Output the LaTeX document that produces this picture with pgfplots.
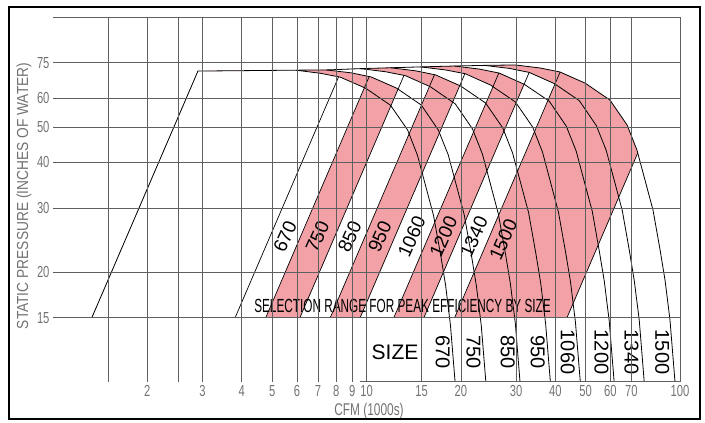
\documentclass[border=0pt]{standalone}
\usepackage{pgfplots}
\pgfplotsset{compat=1.18}
\usepackage{fontspec}
\setmainfont{Liberation Sans}
\newfontfamily\condfont[FakeStretch=0.7]{Liberation Sans}
\newfontfamily\ylabfont[FakeStretch=0.86]{Liberation Sans}
\newfontfamily\selfont[FakeStretch=0.62]{Liberation Sans}
\definecolor{pinkfill}{RGB}{242,162,166}
\definecolor{gridgray}{RGB}{95,95,95}
\definecolor{labgray}{RGB}{115,115,115}
\tikzset{striplab/.style={rotate=66, inner sep=0pt, font=\fontsize{19bp}{19bp}\selectfont},
         sizelab/.style={rotate=-90, inner sep=0pt, font=\fontsize{20bp}{20bp}\selectfont}}
\begin{document}
\begin{tikzpicture}
\useasboundingbox (-53bp,-41bp) rectangle (652bp,382bp);
\begin{axis}[
  at={(0,0)}, anchor=south west,
  scale only axis, width=627bp, height=365bp,
  xmode=log, ymode=log, xmin=1, xmax=100, ymin=10, ymax=100,
  axis line style={draw=none},
  tick style={draw=none},
  xtick={1.5,2,2.5,3,4,5,6,7,8,9,10,15,20,30,40,50,60,70,100},
  xticklabels={,2,,3,4,5,6,7,8,9,10,15,20,30,40,50,60,70,100},
  ytick={15,20,30,40,50,60,75,100},
  yticklabels={15,20,30,40,50,60,75,},
  grid=major,
  major grid style={gridgray, line width=0.5bp},
  axis on top,
  ticklabel style={font=\condfont\fontsize{16bp}{16bp}\selectfont, text=labgray},
  /pgf/number format/assume math mode=true,
  xlabel={CFM (1000s)},
  xlabel style={at={(rel axis cs:0.504,-0.0795)}, anchor=center, font=\condfont\fontsize{17bp}{17bp}\selectfont, text=labgray},
  ylabel={STATIC PRESSURE (INCHES OF WATER)},
  ylabel style={at={(rel axis cs:-0.0463,0.5096)}, anchor=center, font=\ylabfont\fontsize{16bp}{16bp}\selectfont, text=labgray},
]
% ---- selection ranges (painted largest size first) ----
\addplot[fill=pinkfill, draw=none] coordinates {(43.6,15) (1.33,15) (2.90,71.1) (5.95,71.5) (7.45,71.6) (9.57,72.2) (11.95,72.6) (14.88,73.0) (19.07,73.4) (23.78,73.7) (29.8,73.9) (35.8,72.5) (41.4,70.7) (49.8,65.9) (59.8,59.2) (67.8,50.6) (72.9,43.2) (73.35,42.45)} -- cycle;
\addplot[fill=white, draw=none] coordinates {(19.1,15) (1.33,15) (2.90,71.1) (5.95,71.5) (7.45,71.6) (9.57,72.2) (11.95,72.6) (14.88,73.0) (19.07,73.4) (23.78,73.7) (28.57,72.3) (33.04,70.5) (39.74,65.7) (39.93,65.53)} -- cycle;
\addplot[fill=pinkfill, draw=none] coordinates {(15.24,15) (1.33,15) (2.90,71.1) (5.95,71.5) (7.45,71.6) (9.57,72.2) (11.95,72.6) (14.88,73.0) (19.07,73.4) (22.91,72.0) (26.50,70.2) (31.83,65.44)} -- cycle;
\addplot[fill=white, draw=none] coordinates {(12.22,15) (1.33,15) (2.90,71.1) (5.95,71.5) (7.45,71.6) (9.57,72.2) (11.95,72.6) (14.88,73.0) (17.88,71.6) (20.67,69.9) (24.87,65.1) (25.33,64.47)} -- cycle;
\addplot[fill=pinkfill, draw=none] coordinates {(9.54,15) (1.33,15) (2.90,71.1) (5.95,71.5) (7.45,71.6) (9.57,72.2) (11.95,72.6) (14.36,71.2) (16.61,69.4) (19.84,64.9)} -- cycle;
\addplot[fill=white, draw=none] coordinates {(7.66,15) (1.33,15) (2.90,71.1) (5.95,71.5) (7.45,71.6) (9.57,72.2) (11.50,70.8) (13.29,69.1) (15.9,64.6)} -- cycle;
\addplot[fill=pinkfill, draw=none] coordinates {(6.13,15) (1.33,15) (2.90,71.1) (5.95,71.5) (7.45,71.6) (8.95,70.3) (10.35,68.5) (12.45,63.9) (12.61,63.5)} -- cycle;
\addplot[fill=white, draw=none] coordinates {(4.77,15) (1.33,15) (2.90,71.1) (5.95,71.5) (7.14,70.1) (8.26,68.4) (9.86,64.05)} -- cycle;
% ---- outline: left limit and top envelope ----
\addplot[black, line width=0.8bp] coordinates {(1.33,15) (2.90,71.1) (5.95,71.5) (7.45,71.6) (9.57,72.2) (11.95,72.6) (14.88,73.0) (19.07,73.4) (23.78,73.7) (29.8,73.9)};
% ---- system lines (P ~ Q^2) ----
\addplot[black, line width=0.7bp] coordinates {(3.81,15) (8.15,68.6)};
\addplot[black, line width=0.7bp] coordinates {(4.77,15) (10.2,68.7)};
\addplot[black, line width=0.7bp] coordinates {(6.13,15) (13.17,69.2)};
\addplot[black, line width=0.7bp] coordinates {(7.66,15) (16.48,69.5)};
\addplot[black, line width=0.7bp] coordinates {(9.54,15) (20.6,69.94)};
\addplot[black, line width=0.7bp] coordinates {(12.22,15) (26.44,70.24)};
\addplot[black, line width=0.7bp] coordinates {(15.24,15) (33.03,70.5)};
\addplot[black, line width=0.7bp] coordinates {(19.1,15) (41.45,70.67)};
\addplot[black, line width=0.7bp] coordinates {(43.6,15) (73.35,42.45)};
% ---- fan curves by size ----
\addplot[black, line width=0.8bp] coordinates {(5.95,71.5) (7.14,70.1) (8.26,68.4) (9.94,63.8) (11.93,57.3) (13.53,49.0) (14.54,41.8) (15.42,34.6) (16.36,28.6) (17.24,22.3) (17.88,18.4) (18.53,14.3) (19.23,9.68) (19.35,9.0)};
\addplot[black, line width=0.8bp] coordinates {(7.45,71.6) (8.95,70.3) (10.35,68.5) (12.45,63.9) (14.95,57.4) (16.95,49.0) (18.23,41.9) (19.33,34.7) (20.5,28.7) (21.6,22.3) (22.4,18.4) (23.23,14.3) (24.1,9.69) (24.25,9.01)};
\addplot[black, line width=0.8bp] coordinates {(9.57,72.2) (11.50,70.8) (13.29,69.1) (15.99,64.4) (19.20,57.8) (21.77,49.4) (23.41,42.2) (24.82,35.0) (26.33,28.9) (27.74,22.5) (28.77,18.6) (29.83,14.5) (30.95,9.77) (31.15,9.09)};
\addplot[black, line width=0.8bp] coordinates {(11.95,72.6) (14.36,71.2) (16.61,69.4) (19.97,64.7) (23.99,58.1) (27.19,49.7) (29.24,42.4) (31.0,35.2) (32.89,29.1) (34.66,22.6) (35.94,18.7) (37.26,14.5) (38.67,9.82) (38.91,9.13)};
\addplot[black, line width=0.8bp] coordinates {(14.88,73.0) (17.88,71.6) (20.67,69.9) (24.87,65.1) (29.86,58.5) (33.86,50.0) (36.41,42.7) (38.60,35.4) (40.95,29.2) (43.15,22.7) (44.75,18.8) (46.39,14.6) (48.14,9.88) (48.44,9.19)};
\addplot[black, line width=0.8bp] coordinates {(19.07,73.4) (22.91,72.0) (26.50,70.2) (31.87,65.4) (38.27,58.8) (43.39,50.2) (46.66,42.9) (49.47,35.5) (52.48,29.4) (55.30,22.8) (57.34,18.9) (59.46,14.7) (61.70,9.93) (62.08,9.23)};
\addplot[black, line width=0.8bp] coordinates {(23.78,73.7) (28.57,72.3) (33.04,70.5) (39.74,65.7) (47.72,59.0) (54.10,50.4) (58.17,43.1) (61.69,35.7) (65.44,29.5) (68.95,22.9) (71.50,18.9) (74.13,14.8) (76.93,9.97) (77.41,9.27)};
\addplot[black, line width=0.8bp] coordinates {(29.8,73.9) (35.8,72.5) (41.4,70.7) (49.8,65.9) (59.8,59.2) (67.8,50.6) (72.9,43.2) (77.3,35.8) (82.0,29.6) (86.4,23.0) (89.6,19.0) (92.9,14.8) (96.4,10.0) (97.0,9.3)};
% bottom line of the size box
\addplot[gridgray, line width=0.5bp] coordinates {(9.5,10.05) (100,10.05)};
% ---- labels ----
\node[striplab] at (axis cs:5.50,25) {670};
\node[striplab] at (axis cs:6.975,25) {750};
\node[striplab] at (axis cs:8.84,25) {850};
\node[striplab] at (axis cs:11.03,25) {950};
\node[striplab] at (axis cs:13.93,25) {1060};
\node[striplab] at (axis cs:17.6,25) {1200};
\node[striplab] at (axis cs:22.0,25) {1340};
\node[striplab] at (axis cs:27.3,24.5) {1500};
\node[font=\selfont\fontsize{19bp}{19bp}\selectfont] at (axis cs:13.03,16.15) {SELECTION RANGE FOR PEAK EFFICIENCY BY SIZE};
\node[font=\fontsize{21bp}{21bp}\selectfont] at (axis cs:12.33,12.08) {SIZE};
\node[sizelab] at (axis cs:17.5,12.08) {670};
\node[sizelab] at (axis cs:21.95,12.08) {750};
\node[sizelab] at (axis cs:28.2,12.08) {850};
\node[sizelab] at (axis cs:35.2,12.08) {950};
\node[sizelab] at (axis cs:43.85,12.08) {1060};
\node[sizelab] at (axis cs:56.2,12.08) {1200};
\node[sizelab] at (axis cs:70.1,12.08) {1340};
\node[sizelab] at (axis cs:87.8,12.08) {1500};
\end{axis}
\draw[line width=2.5bp] (-44bp,-37bp) rectangle (647bp,375bp);
\end{tikzpicture}
\end{document}
